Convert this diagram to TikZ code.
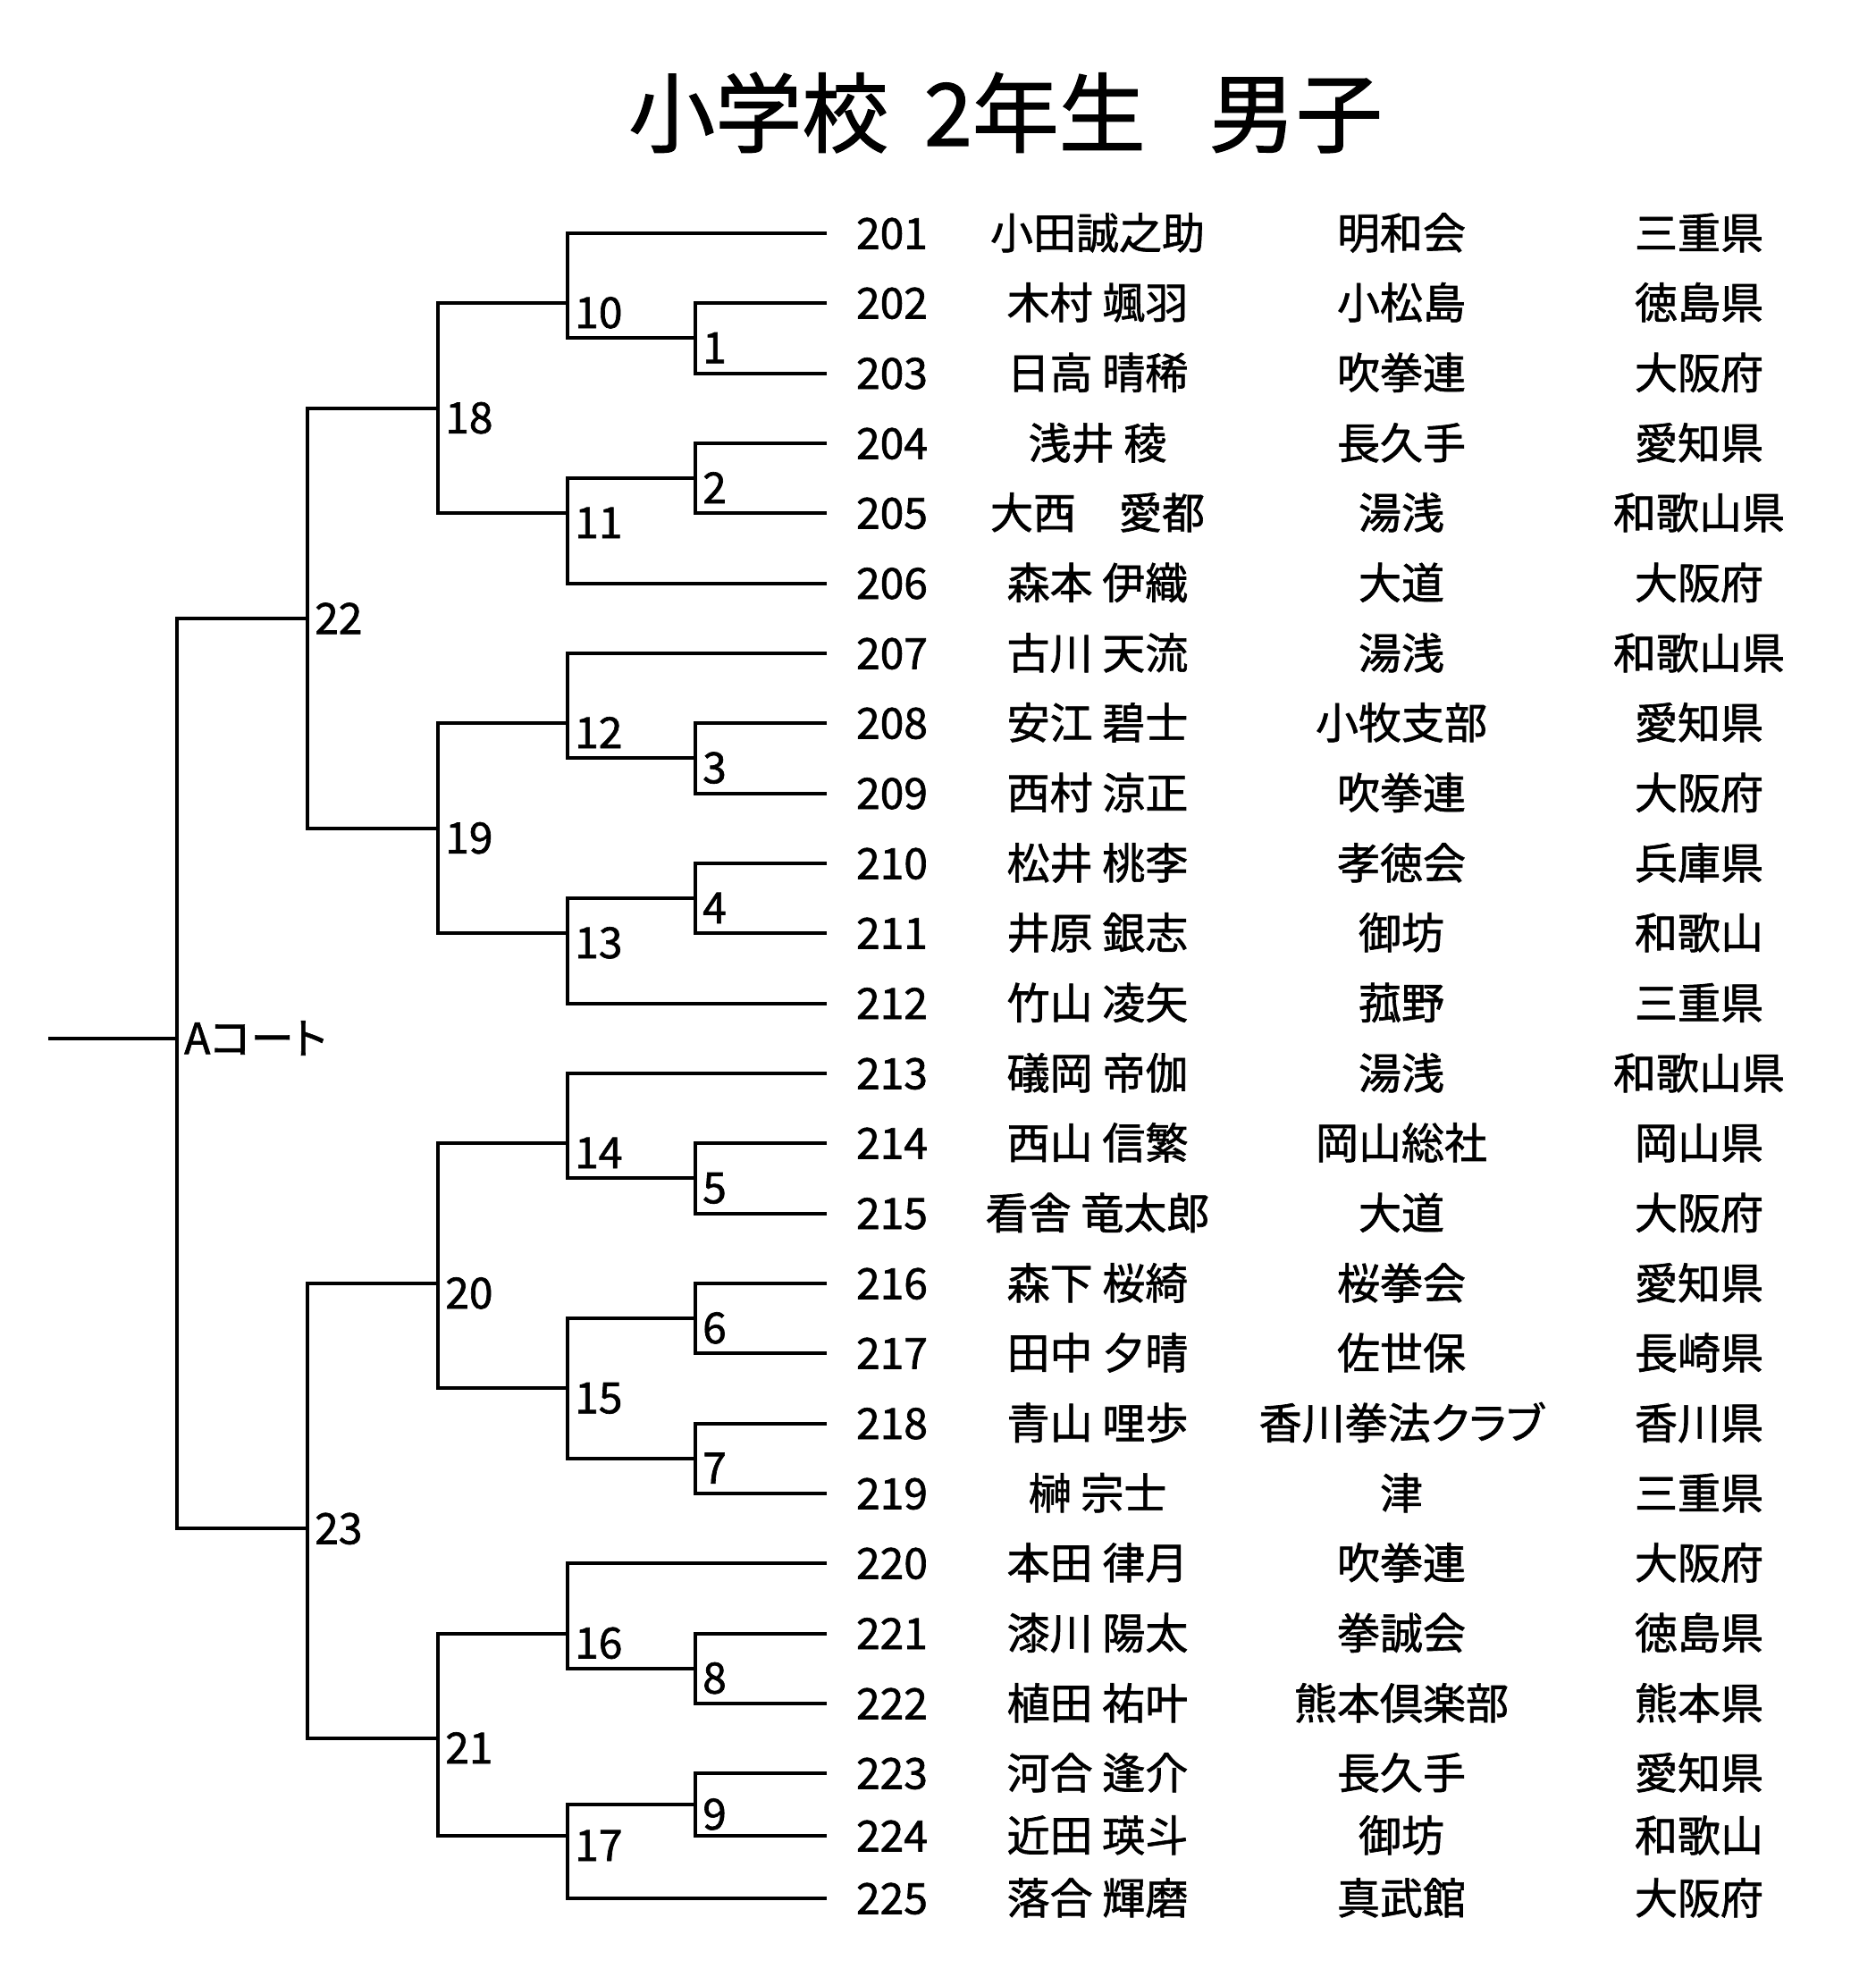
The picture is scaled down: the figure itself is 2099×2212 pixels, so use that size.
\documentclass[tikz,border=0pt]{standalone}
\usepackage{fontspec}
\setmainfont{Noto Sans CJK JP}[RawFeature={+palt}]
\newfontfamily\medfont{Noto Sans CJK JP}[RawFeature={+palt}, FakeBold=1.3]
\newcommand\brk[3]{\draw[br] (#1) -- (#1 -| #3) -- (#2 -| #3) -- (#2);}
\begin{document}
\begin{tikzpicture}[x=1pt,y=-1pt,
  br/.style={line width=4pt, line join=miter},
  txt/.style={inner sep=0pt, font=\medfont\fontsize{48}{48}\selectfont},
  cell/.style={txt, anchor=base, yshift=-17.5pt},
  lab/.style={txt, anchor=base west, yshift=-28pt},
  labc/.style={txt, anchor=base west, yshift=-17.5pt}]
\fill[white] (0,0) rectangle (2099,2212);
\useasboundingbox (0,0) rectangle (2099,2212);

\node[anchor=base, inner sep=0pt, font=\medfont\fontsize{97}{97}\selectfont] (title) at (1125,163) {小学校\hspace{18pt} 2年生\hspace{-26pt}　男子};

\foreach \n/\y/\nm/\cl/\pf in {
201/261/小田誠之助/明和会/三重県,
202/339/木村 颯羽/小松島/徳島県,
203/417.5/日高 晴稀/吹拳連/大阪府,
204/496/浅井 稜/長久手/愛知県,
205/574/大西　愛都/湯浅/和歌山県,
206/652.5/森本 伊織/大道/大阪府,
207/731/古川 天流/湯浅/和歌山県,
208/809/安江 碧士/小牧支部/愛知県,
209/887.5/西村 涼正/吹拳連/大阪府,
210/966/松井 桃李/孝徳会/兵庫県,
211/1044/井原 銀志/御坊/和歌山,
212/1122.5/竹山 凌矢/菰野/三重県,
213/1201/礒岡 帝伽/湯浅/和歌山県,
214/1279/西山 信繁/岡山総社/岡山県,
215/1357.5/看舎 竜太郎/大道/大阪府,
216/1436/森下 桜綺/桜拳会/愛知県,
217/1514/田中 夕晴/佐世保/長崎県,
218/1592.5/青山 哩歩/香川拳法クラブ/香川県,
219/1671/榊 宗士/津/三重県,
220/1749/本田 律月/吹拳連/大阪府,
221/1827.5/漆川 陽太/拳誠会/徳島県,
222/1906/植田 祐叶/熊本倶楽部/熊本県,
223/1984/河合 逢介/長久手/愛知県,
224/2054/近田 瑛斗/御坊/和歌山,
225/2124/落合 輝磨/真武館/大阪府}{
  \coordinate (e\n) at (925,\y);
  \node[cell] (num\n) at (998,\y) {\n};
  \node[cell] (name\n) at (1228,\y) {\nm};
  \node[cell] (club\n) at (1568,\y) {\cl};
  \node[cell] (pref\n) at (1901,\y) {\pf};
}

% match junctions
\coordinate (m1) at (778,378.25);
\coordinate (m2) at (778,535);
\coordinate (m3) at (778,848.25);
\coordinate (m4) at (778,1005);
\coordinate (m5) at (778,1318.25);
\coordinate (m6) at (778,1475);
\coordinate (m7) at (778,1631.75);
\coordinate (m8) at (778,1866.75);
\coordinate (m9) at (778,2019);
\coordinate (m10) at (635,339);
\coordinate (m11) at (635,574);
\coordinate (m12) at (635,809);
\coordinate (m13) at (635,1044);
\coordinate (m14) at (635,1279);
\coordinate (m15) at (635,1553.25);
\coordinate (m16) at (635,1827.5);
\coordinate (m17) at (635,2054);
\coordinate (m18) at (490,456.75);
\coordinate (m19) at (490,926.75);
\coordinate (m20) at (490,1436);
\coordinate (m21) at (490,1945);
\coordinate (m22) at (344,691.75);
\coordinate (m23) at (344,1710);
\coordinate (ac) at (198,1161.75);
\coordinate (ac0) at (54,1161.75);

\brk{e202}{e203}{m1}
\brk{e204}{e205}{m2}
\brk{e208}{e209}{m3}
\brk{e210}{e211}{m4}
\brk{e214}{e215}{m5}
\brk{e216}{e217}{m6}
\brk{e218}{e219}{m7}
\brk{e221}{e222}{m8}
\brk{e223}{e224}{m9}
\brk{e201}{m1}{m10}
\brk{m2}{e206}{m11}
\brk{e207}{m3}{m12}
\brk{m4}{e212}{m13}
\brk{e213}{m5}{m14}
\brk{m6}{m7}{m15}
\brk{e220}{m8}{m16}
\brk{m9}{e225}{m17}
\brk{m10}{m11}{m18}
\brk{m12}{m13}{m19}
\brk{m14}{m15}{m20}
\brk{m16}{m17}{m21}
\brk{m18}{m19}{m22}
\brk{m20}{m21}{m23}
\brk{m22}{m23}{ac}
\draw[br] (ac) -- (ac0);

% match labels
\foreach \m in {1,...,21}{
  \node[lab] (L\m) at ([xshift=8pt]m\m) {\m};
}
\node[labc] (L22) at ([xshift=8pt]m22) {22};
\node[labc] (L23) at ([xshift=8pt]m23) {23};
\node[labc] (Lac) at ([xshift=8pt]ac) {Aコート};
\end{tikzpicture}
\end{document}
